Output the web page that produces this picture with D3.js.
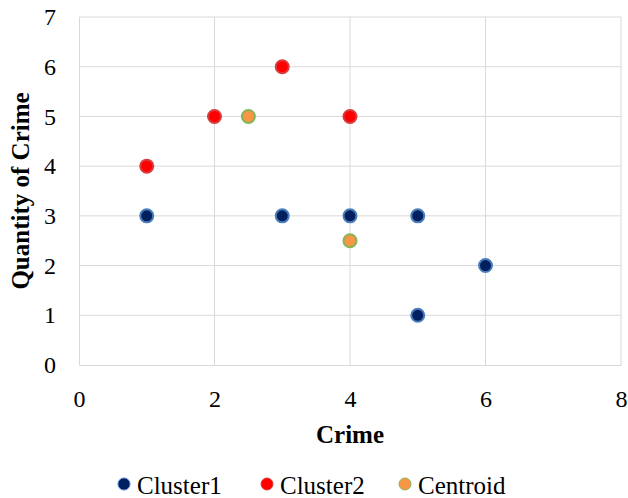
<!DOCTYPE html>
<html>
<head>
<meta charset="utf-8">
<script src="https://cdn.jsdelivr.net/npm/d3@7"></script>
<style>
  body { margin: 0; background: #fff; }
</style>
</head>
<body>
<svg id="chart" width="628" height="498">
  <text id="xTitle" style="font-family:'Liberation Serif'; font-size:25px; font-weight:bold">Crime</text>
  <text id="yTitle" style="font-family:'Liberation Serif'; font-size:25px; font-weight:bold">Quantity of Crime</text>
</svg>
<script>
var cluster1X = [1, 3, 4, 5, 6, 5];
var cluster1Y = [3, 3, 3, 3, 2, 1];
var cluster2X = [1, 2, 3, 4];
var cluster2Y = [4, 5, 6, 5];
var centroidX = [2.5, 4];
var centroidY = [5, 2.5];
var xTicks = [0, 2, 4, 6, 8];
var yTicks = [0, 1, 2, 3, 4, 5, 6, 7];

var fontName = "Liberation Serif";

var svgWidth = 628, svgHeight = 498;
var margin = { top: 17, right: 7, bottom: 133, left: 79 };
var width = svgWidth - margin.left - margin.right;
var height = svgHeight - margin.top - margin.bottom;

var svg = d3.select("#chart");

var g = svg.append("g")
    .attr("transform", `translate(${margin.left}, ${margin.top})`);

var x = d3.scaleLinear().domain([0, 8]).range([0, width]);
var y = d3.scaleLinear().domain([0, 7]).range([height, 0]);

// gridlines
g.append("g").selectAll("line")
    .data(yTicks.slice(1))
    .enter().append("line")
    .attr("x1", 0).attr("x2", width)
    .attr("y1", d => y(d)).attr("y2", d => y(d))
    .attr("stroke", "#d9d9d9");

g.append("g").selectAll("line")
    .data(xTicks.slice(1))
    .enter().append("line")
    .attr("y1", 0).attr("y2", height)
    .attr("x1", d => x(d)).attr("x2", d => x(d))
    .attr("stroke", "#d9d9d9");

// axes
var xAxis = g.append("g")
    .attr("transform", `translate(0, ${height})`)
    .call(d3.axisBottom(x).tickValues(xTicks).tickFormat(d3.format("d")).tickSize(0).tickPadding(25));
var yAxis = g.append("g")
    .call(d3.axisLeft(y).tickValues(yTicks).tickFormat(d3.format("d")).tickSize(0).tickPadding(23));

[xAxis, yAxis].forEach(function (a) {
    a.attr("font-family", fontName).attr("font-size", 24);
    a.select(".domain").attr("stroke", "#d9d9d9");
    a.selectAll("text")
        .style("font-family", "'Liberation Serif'")
        .style("font-size", "24px")
        .attr("fill", "#000");
});

// axis titles (static elements, placed here)
svg.select("#xTitle")
    .attr("x", margin.left + width / 2)
    .attr("y", margin.top + height + 78)
    .attr("text-anchor", "middle");

svg.select("#yTitle")
    .attr("transform", "rotate(-90)")
    .attr("x", -(margin.top + height / 2))
    .attr("y", margin.left - 50)
    .attr("text-anchor", "middle");

var series = [
    { name: "Cluster1", xs: cluster1X, ys: cluster1Y, fill: "#002060", stroke: "#4a7ebb" },
    { name: "Cluster2", xs: cluster2X, ys: cluster2Y, fill: "#ff0000", stroke: "#d83c3c" },
    { name: "Centroid", xs: centroidX, ys: centroidY, fill: "#f79646", stroke: "#86b555" }
];

series.forEach(function (s) {
    g.append("g").selectAll("circle")
        .data(s.xs.map((v, i) => [v, s.ys[i]]))
        .enter().append("circle")
        .attr("cx", d => x(d[0]))
        .attr("cy", d => y(d[1]))
        .attr("r", 6.5)
        .attr("fill", s.fill)
        .attr("stroke", s.stroke)
        .attr("stroke-width", 2);
});

// legend
var legendX = [124, 267, 405];
var legend = svg.append("g");
series.forEach(function (s, i) {
    legend.append("circle")
        .attr("cx", legendX[i])
        .attr("cy", 484)
        .attr("r", 6)
        .attr("fill", s.fill)
        .attr("stroke", s.stroke)
        .attr("stroke-width", 1);
    legend.append("text")
        .attr("x", legendX[i] + 13)
        .attr("y", 494)
        .style("font-family", "'Liberation Serif'")
        .style("font-size", "25px")
        .text(s.name);
});
</script>
</body>
</html>
